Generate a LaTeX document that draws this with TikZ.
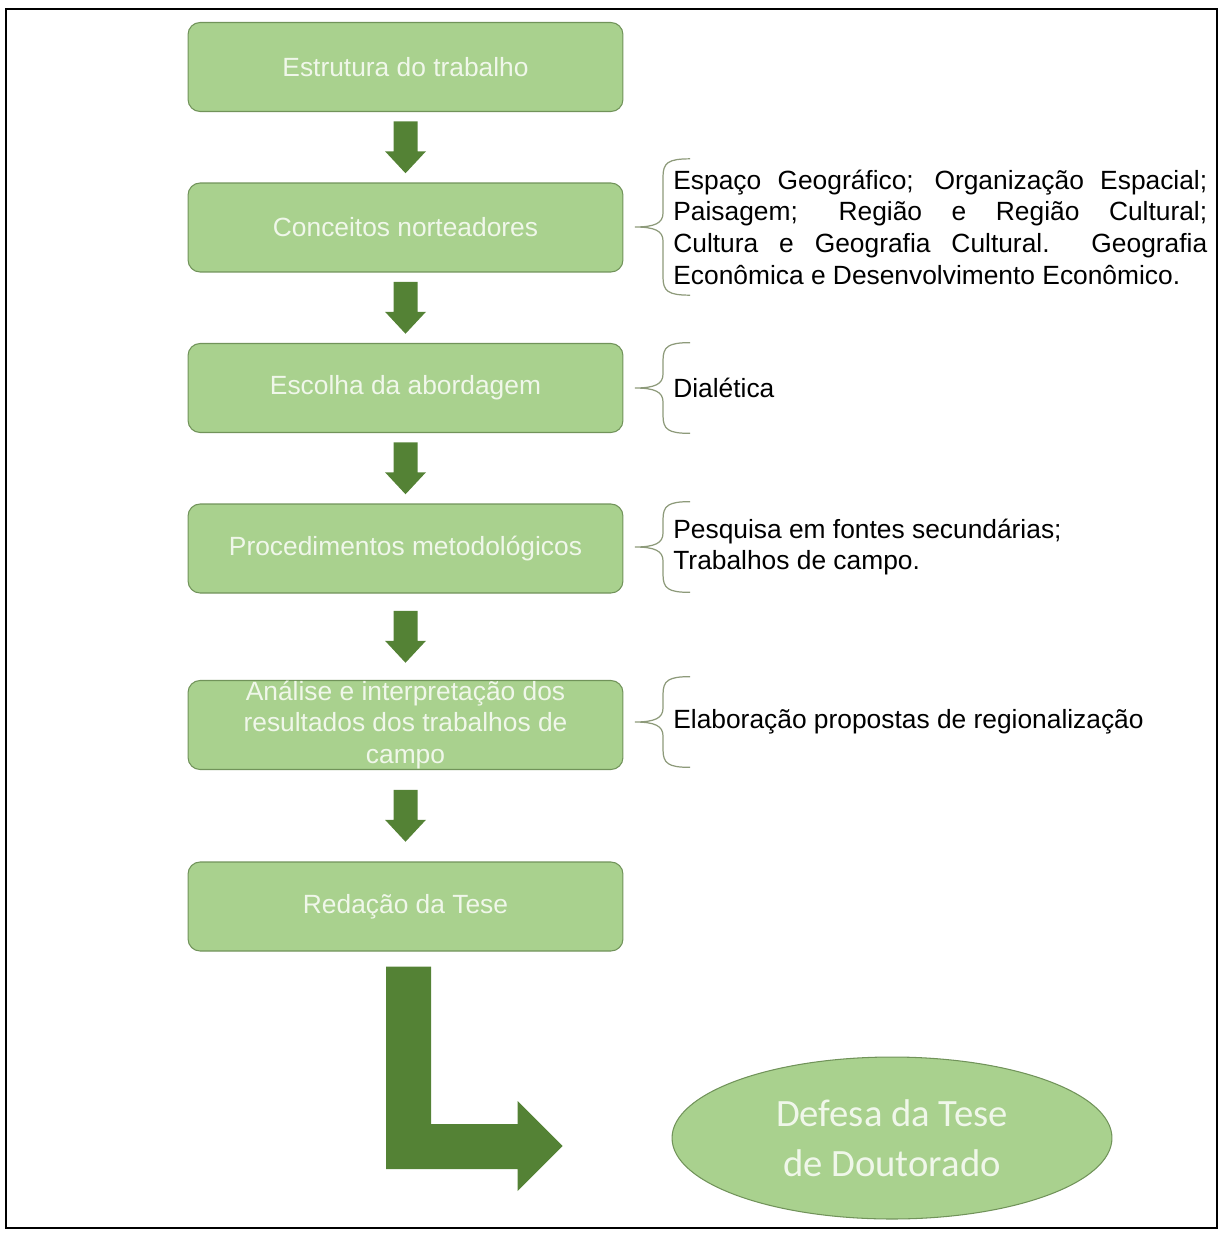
\documentclass[tikz,border=0pt]{standalone}
\usepackage{fontspec}
\setmainfont{Liberation Sans}
\newfontfamily\calibri{Carlito}
\usepackage{xcolor}
\usetikzlibrary{calc,shapes.geometric}

\definecolor{boxfill}{HTML}{A9D18E}
\definecolor{boxline}{HTML}{71935A}
\definecolor{boxtext}{HTML}{F0F7EA}
\definecolor{arrowgreen}{HTML}{548235}
\definecolor{bracegray}{HTML}{8D9A7A}

\newcommand{\stepdown}[2]{%
  \path ($(#1.south)!0.5!(#2.north)$) coordinate (mid);
  \fill[arrowfill] ($(mid)+(-12,-26)$) -- ($(mid)+(12,-26)$) -- ($(mid)+(12,4)$)
    -- ($(mid)+(20.5,4)$) -- ($(mid)+(0,26)$) -- ($(mid)+(-20.5,4)$)
    -- ($(mid)+(-12,4)$) -- cycle;}

\newcommand{\notebrace}[1]{%
  \draw[bracegray, line width=0.7pt]
    ($(#1.north west)+(17,0)$) .. controls ($(#1.north west)+(-5,0)$) and ($(#1.north west)+(-10,4)$) .. ($(#1.north west)+(-10,18)$)
    -- ($(#1.west)+(-10,-14)$) .. controls ($(#1.west)+(-10,-4)$) and ($(#1.west)+(-18,0)$) .. ($(#1.west)+(-38,0)$)
    .. controls ($(#1.west)+(-18,0)$) and ($(#1.west)+(-10,4)$) .. ($(#1.west)+(-10,14)$)
    -- ($(#1.south west)+(-10,-18)$) .. controls ($(#1.south west)+(-10,-4)$) and ($(#1.south west)+(-5,0)$) .. ($(#1.south west)+(17,0)$);}

\begin{document}
\begin{tikzpicture}[x=0.02cm, y=-0.02cm,
  every node/.style={font=\fontsize{15}{18}\selectfont},
  stage/.style={rectangle, rounded corners=0.24cm, draw=boxline, line width=0.6pt,
    fill=boxfill, text=boxtext, align=center, inner sep=0pt,
    minimum width=8.7cm, minimum height=1.78cm},
  note/.style={anchor=west, align=left, inner xsep=0pt, inner ysep=6pt,
    minimum height=1.8cm, text=black},
  arrowfill/.style={fill=arrowgreen}]
  \useasboundingbox (0,0) rectangle (1220,1234);
  \draw[line width=1.2pt] (6,9) rectangle (1217,1228);

  \node[stage] (est) at (405.5, 67) {Estrutura do trabalho};
  \node[stage] (conc) at (405.5, 227.5) {Conceitos norteadores};
  \node[stage] (esc) at (405.5, 388) {Escolha da abordagem};
  \node[stage] (proc) at (405.5, 548.5) {Procedimentos metodológicos};
  \node[stage] (anal) at (405.5, 725) {Análise e interpretação dos\\resultados dos trabalhos de\\campo};
  \node[stage] (red) at (405.5, 906.5) {Redação da Tese};
  \node[ellipse, draw=boxline, line width=0.6pt, fill=boxfill, text=boxtext, inner sep=0pt,
    minimum width=8.8cm, minimum height=3.24cm, align=center,
    font=\calibri\fontsize{22}{28.5}\selectfont] (defesa) at (892, 1138) {Defesa da Tese\\de Doutorado};

  \stepdown{est}{conc}
  \stepdown{conc}{esc}
  \stepdown{esc}{proc}
  \stepdown{proc}{anal}
  \stepdown{anal}{red}

  \path (red.south) ++(3,15) coordinate (ltop);
  \path (defesa.west) ++(-109,8) coordinate (ltip);
  \fill[arrowfill] ($(ltop)+(-22.5,0)$) -- ($(ltop)+(22.5,0)$) -- ($(ltop |- ltip)+(22.5,-22)$)
    -- ($(ltip)+(-45,-22)$) -- ($(ltip)+(-45,-45)$) -- (ltip) -- ($(ltip)+(-45,45)$)
    -- ($(ltip)+(-45,23)$) -- ($(ltop |- ltip)+(-22.5,23)$) -- cycle;

  \node[note, align=justify, text width=10.68cm] (n1) at (673, 227)
    {Espaço Geográfico; Organização Espacial;\linebreak Paisagem; Região e Região Cultural;\linebreak Cultura e Geografia Cultural.\ \ Geografia\linebreak Econômica e Desenvolvimento Econômico.};
  \node[note] (n2) at (673, 388) {Dialética};
  \node[note] (n3) at (673, 547) {Pesquisa em fontes secundárias;\\Trabalhos de campo.};
  \node[note] (n4) at (673, 722) {Elaboração propostas de regionalização};

  \notebrace{n1}
  \notebrace{n2}
  \notebrace{n3}
  \notebrace{n4}
\end{tikzpicture}
\end{document}
